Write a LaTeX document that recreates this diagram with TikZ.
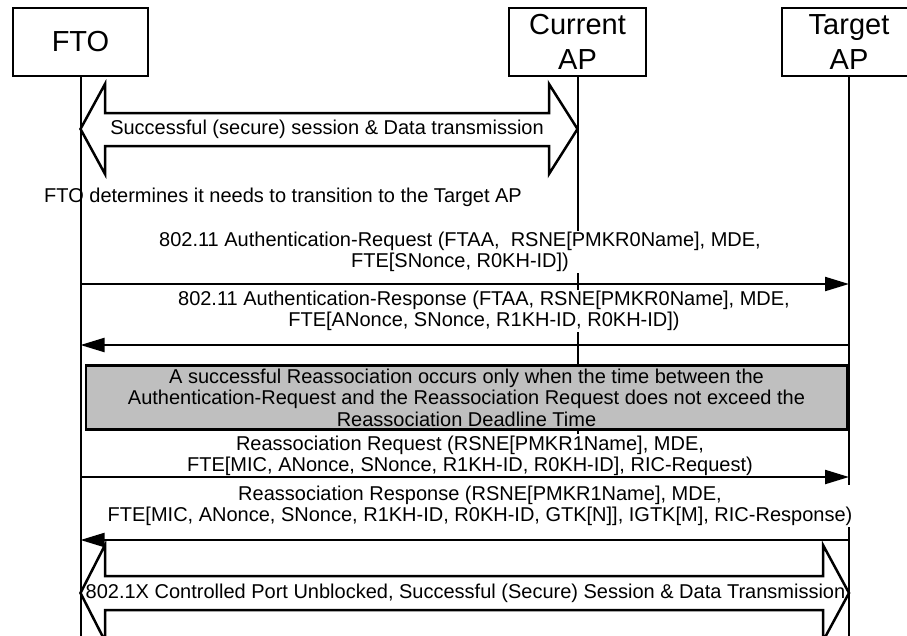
\documentclass[tikz,border=0pt]{standalone}
\usepackage{fontspec}
\setmainfont{Liberation Sans}
\usetikzlibrary{arrows.meta,positioning}

\begin{document}
\begin{tikzpicture}[
    x=1pt, y=-1pt,
    entity/.style={rectangle, draw, line width=2.5pt, fill=white, minimum height=68pt,
                   align=center, inner sep=0pt, font=\fontsize{29}{35}\selectfont},
    lifeline/.style={line width=2pt},
    msg/.style={-{Triangle[length=24pt, width=14pt]}, line width=2.2pt},
    msgtext/.style={align=center, fill=white, inner sep=1pt, font=\fontsize{20}{21.5}\selectfont},
    plaintext/.style={align=center, inner sep=0pt, font=\fontsize{20}{21.5}\selectfont},
    blockarrow/.style={line width=2.5pt, line join=miter},
    deadline/.style={rectangle, draw, line width=2.5pt, fill=gray!50, align=center,
                     inner sep=0pt, font=\fontsize{20}{21.5}\selectfont}
  ]
    \useasboundingbox (0,0) rectangle (907,635);

    % participants
    \node[entity, minimum width=135pt] (fto) at (80.5,42) {FTO};
    \node[entity, minimum width=137pt] (cur) at (577.5,42) {Current\\AP};
    \node[entity, minimum width=134pt] (tgt) at (849,42) {Target\\AP};

    \coordinate (fto-end) at (80.5,640);
    \coordinate (cur-end) at (577.5,434);
    \coordinate (tgt-end) at (849,640);
    \foreach \m/\y in {req/284, resp/345, reareq/477, rearesp/540} {
      \coordinate (fto-\m) at (80.5,\y);
      \coordinate (tgt-\m) at (849,\y);
    }

    \foreach \p in {fto, cur, tgt}
      \draw[lifeline] (\p.south) -- (\p-end);

    % secure session before the transition
    \draw[blockarrow] (80.5,129) -- (105,84) -- (105,113) -- (549,113) -- (549,84)
      -- (577.5,129) -- (549,174) -- (549,146) -- (105,146) -- (105,174) -- cycle;
    \node[plaintext] (session) at (327,129) {Successful (secure) session \& Data transmission};

    \node[plaintext, anchor=west] (decide) at (44,197) {FTO determines it needs to transition to the Target AP};

    % authentication exchange
    \node[msgtext] (reqtext) at (460,252)
      {802.11 Authentication-Request (FTAA,\ \ RSNE[PMKR0Name], MDE,\\FTE[SNonce, R0KH-ID])};
    \node[msgtext] (resptext) at (484,311)
      {802.11 Authentication-Response (FTAA, RSNE[PMKR0Name], MDE,\\FTE[ANonce, SNonce, R1KH-ID, R0KH-ID])};

    \node[deadline, minimum width=761pt, minimum height=64pt] (deadline) at (466.5,397.5)
      {A successful Reassociation occurs only when the time between the\\
       Authentication-Request and the Reassociation Request does not exceed the\\
       Reassociation Deadline Time};

    % reassociation exchange
    \node[msgtext] (reareqtext) at (470,456)
      {Reassociation Request (RSNE[PMKR1Name], MDE,\\FTE[MIC, ANonce, SNonce, R1KH-ID, R0KH-ID], RIC-Request)};
    \node[msgtext] (rearesptext) at (480,506)
      {Reassociation Response (RSNE[PMKR1Name], MDE,\\FTE[MIC, ANonce, SNonce, R1KH-ID, R0KH-ID, GTK[N]], IGTK[M], RIC-Response)};

    \foreach \a/\b in {fto-req/tgt-req, tgt-resp/fto-resp, fto-reareq/tgt-reareq, tgt-rearesp/fto-rearesp}
      \draw[msg] (\a) -- (\b);

    % secure session after the reassociation
    \draw[blockarrow] (80.5,593) -- (105,545) -- (105,576) -- (823,576) -- (823,545)
      -- (849,593) -- (823,641) -- (823,610) -- (105,610) -- (105,641) -- cycle;
    \node[plaintext] (portopen) at (465.5,593)
      {802.1X Controlled Port Unblocked, Successful (Secure) Session \& Data Transmission};
\end{tikzpicture}
\end{document}
